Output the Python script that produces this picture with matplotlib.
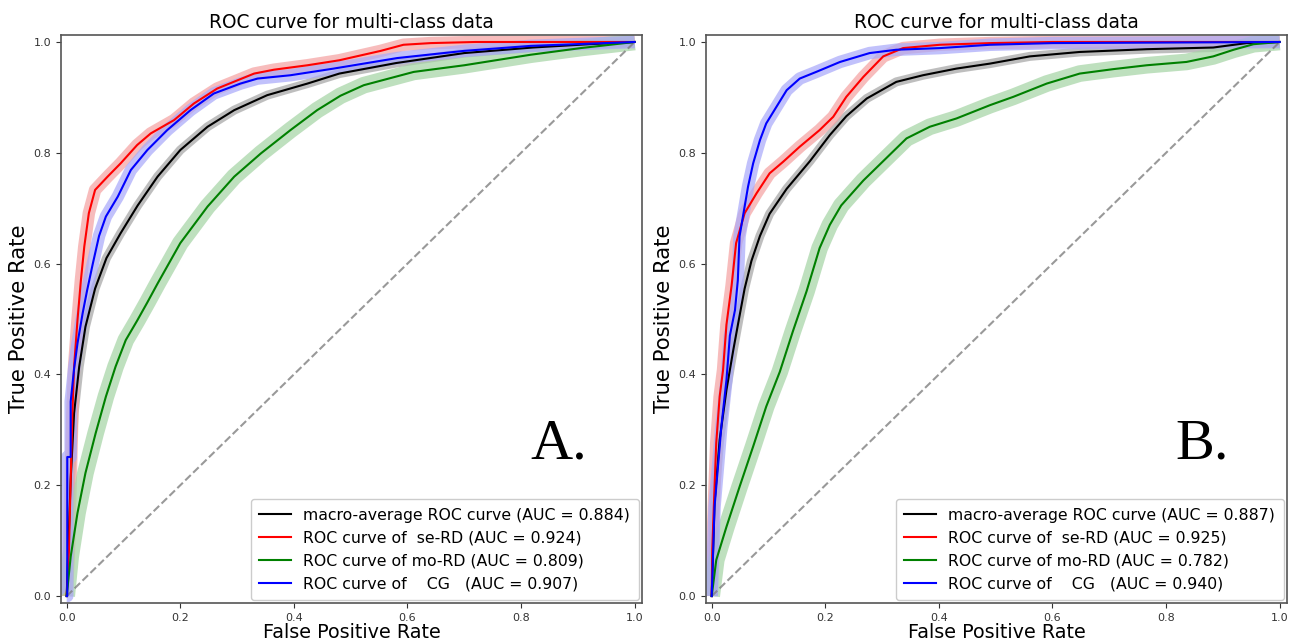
import matplotlib
matplotlib.use("Agg")
import matplotlib.pyplot as plt

# ---------------- data ----------------
title = "ROC curve for multi-class data"
class_names = [" se-RD", "mo-RD", "   CG  "]
panel_letters = ["A.", "B."]

# Panel A
auc_A = {"macro": 0.884, "se": 0.924, "mo": 0.809, "cg": 0.907}
macro_A_x = [0, 0.004, 0.007, 0.013, 0.022, 0.033, 0.05, 0.07, 0.095, 0.125, 0.16, 0.2, 0.248,
             0.295, 0.353, 0.424, 0.48, 0.58, 0.70, 0.82, 0.92, 1.0]
macro_A_y = [0, 0.12, 0.21, 0.33, 0.414, 0.486, 0.555, 0.61, 0.655, 0.705, 0.757, 0.805, 0.847,
             0.877, 0.904, 0.925, 0.943, 0.962, 0.98, 0.99, 0.996, 1.0]
se_A_x = [0, 0.004, 0.007, 0.010, 0.013, 0.019, 0.025, 0.031, 0.039, 0.05, 0.072, 0.095, 0.124,
          0.148, 0.189, 0.224, 0.265, 0.33, 0.365, 0.424, 0.48, 0.553, 0.593, 0.641, 0.72, 1.0]
se_A_y = [0, 0.083, 0.21, 0.33, 0.414, 0.498, 0.57, 0.631, 0.691, 0.733, 0.757, 0.781, 0.814,
          0.835, 0.859, 0.889, 0.916, 0.943, 0.950, 0.958, 0.967, 0.984, 0.995, 0.998, 1.0, 1.0]
mo_A_x = [0, 0.007, 0.019, 0.033, 0.051, 0.069, 0.086, 0.104, 0.124, 0.142, 0.160, 0.2, 0.248,
          0.295, 0.342, 0.394, 0.441, 0.482, 0.523, 0.611, 0.70, 0.817, 0.905, 1.0]
mo_A_y = [0, 0.071, 0.15, 0.222, 0.294, 0.36, 0.414, 0.462, 0.497, 0.53, 0.564, 0.637, 0.703,
          0.757, 0.799, 0.841, 0.877, 0.903, 0.922, 0.946, 0.958, 0.977, 0.989, 1.0]
cg_A_x = [0, 0.001, 0.001, 0.007, 0.007, 0.013, 0.019, 0.028, 0.036, 0.046, 0.057, 0.069, 0.09,
          0.113, 0.142, 0.177, 0.218, 0.259, 0.306, 0.336, 0.394, 0.47, 0.582, 0.70, 0.817, 1.0]
cg_A_y = [0, 0, 0.251, 0.251, 0.351, 0.41, 0.456, 0.51, 0.552, 0.60, 0.65, 0.685, 0.721,
          0.769, 0.805, 0.841, 0.877, 0.907, 0.925, 0.934, 0.940, 0.952, 0.971, 0.984, 0.993, 1.0]

# Panel B
auc_B = {"macro": 0.887, "se": 0.925, "mo": 0.782, "cg": 0.940}
macro_B_x = [0, 0.005, 0.014, 0.026, 0.038, 0.048, 0.058, 0.07, 0.085, 0.102, 0.132, 0.173, 0.208,
             0.237, 0.273, 0.325, 0.372, 0.431, 0.49, 0.56, 0.648, 0.766, 0.883, 0.942, 1.0]
macro_B_y = [0, 0.168, 0.282, 0.372, 0.444, 0.50, 0.555, 0.605, 0.65, 0.69, 0.735, 0.785, 0.832,
             0.866, 0.898, 0.928, 0.940, 0.952, 0.961, 0.974, 0.982, 0.987, 0.99, 0.998, 1.0]
se_B_x = [0, 0.001, 0.005, 0.008, 0.014, 0.02, 0.026, 0.035, 0.043, 0.058, 0.079, 0.102, 0.126,
          0.155, 0.19, 0.214, 0.237, 0.267, 0.302, 0.337, 0.402, 0.49, 0.6, 1.0]
se_B_y = [0, 0.083, 0.197, 0.276, 0.36, 0.408, 0.49, 0.56, 0.637, 0.691, 0.727, 0.763, 0.784,
          0.811, 0.841, 0.865, 0.901, 0.937, 0.974, 0.989, 0.995, 0.998, 1.0, 1.0]
mo_B_x = [0, 0.008, 0.026, 0.049, 0.073, 0.096, 0.12, 0.143, 0.167, 0.19, 0.208, 0.228, 0.267,
          0.314, 0.343, 0.384, 0.431, 0.49, 0.531, 0.59, 0.648, 0.707, 0.766, 0.836, 0.883, 0.919,
          0.954, 1.0]
mo_B_y = [0, 0.065, 0.125, 0.197, 0.27, 0.342, 0.405, 0.478, 0.55, 0.628, 0.67, 0.705, 0.75,
          0.797, 0.826, 0.847, 0.862, 0.886, 0.901, 0.925, 0.943, 0.951, 0.958, 0.964, 0.974, 0.986,
          0.996, 1.0]
cg_B_x = [0, 0.005, 0.011, 0.017, 0.026, 0.032, 0.041, 0.046, 0.049, 0.055, 0.064, 0.073, 0.085,
          0.096, 0.114, 0.132, 0.155, 0.184, 0.226, 0.278, 0.325, 0.402, 0.49, 0.6, 1.0]
cg_B_y = [0, 0.161, 0.233, 0.306, 0.39, 0.47, 0.516, 0.57, 0.649, 0.685, 0.739, 0.781, 0.823,
          0.853, 0.883, 0.913, 0.934, 0.946, 0.964, 0.980, 0.986, 0.989, 0.995, 0.998, 1.0]

panels = [
    (auc_A, [(macro_A_x, macro_A_y), (se_A_x, se_A_y), (mo_A_x, mo_A_y), (cg_A_x, cg_A_y)]),
    (auc_B, [(macro_B_x, macro_B_y), (se_B_x, se_B_y), (mo_B_x, mo_B_y), (cg_B_x, cg_B_y)]),
]

# ---------------- styling ----------------
line_colors = ["black", "red", "green", "blue"]
band_colors = ["#a6a6a6", "#f5a3a3", "#a6d4a6", "#aaaafa"]
band_widths = [6.5, 9.0, 12.0, 9.0]

fig = plt.figure(figsize=(12.90, 6.41), dpi=100)
ax_pos = [[0.0473, 0.0593, 0.4504, 0.886], [0.5473, 0.0593, 0.4504, 0.886]]

for i, (auc, curves) in enumerate(panels):
    ax = fig.add_axes(ax_pos[i])
    keys = ["macro", "se", "mo", "cg"]
    labels = ["macro-average ROC curve (AUC = {:.3f})".format(auc["macro"])]
    for name, k in zip(class_names, keys[1:]):
        labels.append("ROC curve of {} (AUC = {:.3f})".format(name, auc[k]))
    for j, (xs, ys) in enumerate(curves):
        ax.plot(xs, ys, color=band_colors[j], lw=band_widths[j], alpha=0.72,
                solid_joinstyle="round", solid_capstyle="butt", zorder=1)
    for j, (xs, ys) in enumerate(curves):
        ax.plot(xs, ys, color=line_colors[j], lw=1.5, label=labels[j], zorder=3)
    ax.plot([0, 1], [0, 1], color="gray", lw=1.5, ls="--", alpha=0.8, zorder=2)
    ax.set_xlim(-0.01, 1.013)
    ax.set_ylim(-0.0125, 1.0125)
    ax.set_xticks([0, 0.2, 0.4, 0.6, 0.8, 1.0])
    ax.set_yticks([0, 0.2, 0.4, 0.6, 0.8, 1.0])
    ax.tick_params(labelsize=8, length=3.5, colors="#333333")
    for s in ax.spines.values():
        s.set_color("#555555")
        s.set_linewidth(1.2)
    ax.set_title(title, fontsize=13.4, pad=5)
    ax.set_xlabel("False Positive Rate", fontsize=13.8, labelpad=0)
    ax.set_ylabel("True Positive Rate", fontsize=15.2, labelpad=3)
    leg = ax.legend(loc="lower right", fontsize=11.3, borderaxespad=0.2, borderpad=0.55,
                    handlelength=2.0, labelspacing=0.5, framealpha=1.0)
    leg.get_frame().set_edgecolor("#cccccc")
    ax.text(0.817, 0.249, panel_letters[i], fontsize=42, family="Liberation Serif",
            ha="left", va="baseline", zorder=4)

fig.savefig("out.png", dpi=100)
